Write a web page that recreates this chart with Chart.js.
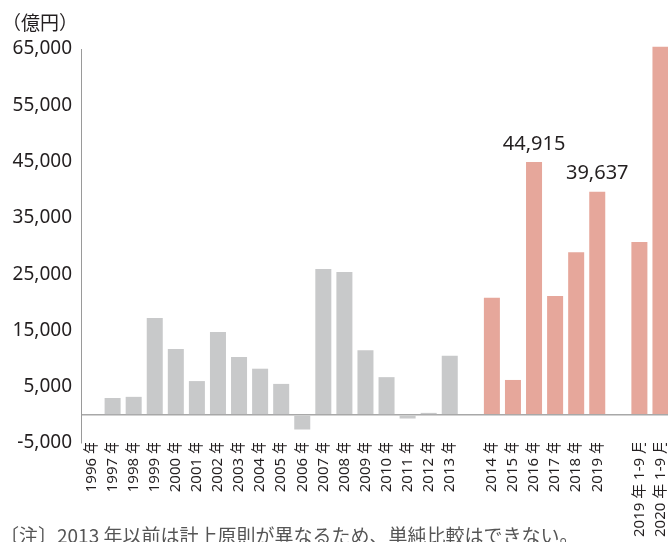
<!DOCTYPE html>
<html lang="ja">
<head>
    <meta charset="utf-8">
    <title>FDI chart</title>
    <script src="https://cdn.jsdelivr.net/npm/chart.js@4/dist/chart.umd.min.js"></script>
    <style>
        html, body { margin: 0; padding: 0; width: 668px; height: 542px; overflow: hidden; background: #fff; }
        #wrap { position: absolute; left: 0; top: 0; width: 671px; height: 542px; }
        .unit { position: absolute; left: 2px; top: 12px; font: 19px "Noto Sans CJK JP", "Noto Sans", sans-serif; color: #231f20; line-height: 1; }
        .note { position: absolute; left: 0px; top: 525px; font: 19px "Noto Sans CJK JP", sans-serif; color: #555; line-height: 1; white-space: nowrap; }
    </style>
</head>
<body>
    <div id="wrap"><canvas id="fdiChart"></canvas></div>
    <div class="unit">（億円）</div>
    <div class="note">〔注〕2013 年以前は計上原則が異なるため、単純比較はできない。</div>

<script>
    /* chart data */
    const categories = ['1996 年', '1997 年', '1998 年', '1999 年', '2000 年', '2001 年', '2002 年', '2003 年', '2004 年',
        '2005 年', '2006 年', '2007 年', '2008 年', '2009 年', '2010 年', '2011 年', '2012 年', '2013 年', '',
        '2014 年', '2015 年', '2016 年', '2017 年', '2018 年', '2019 年', '', '2019 年 1-9 月', '2020 年 1-9 月'];
    const values = [0, 3000, 3200, 17200, 11700, 6000, 14700, 10300, 8200,
        5500, -2600, 25900, 25400, 11500, 6700, -650, 350, 10500, null,
        20800, 6200, 44915, 21100, 28900, 39637, null, 30700, 65400];
    const yTicks = [-5000, 0, 5000, 15000, 25000, 35000, 45000, 55000, 65000];
    const labelledBars = ['2016 年', '2019 年'];

    const newBasisStart = categories.indexOf('2014 年');
    const barColors = categories.map((c, i) => i < newBasisStart ? '#c8c9ca' : '#e6a79b');
    const fmt = new Intl.NumberFormat('en-US');
    const FONT = '"Noto Sans", "Noto Sans CJK JP", sans-serif';

    /* draws the value over the two marked bars */
    const barValues = {
        id: 'barValues',
        afterDatasetsDraw(chart){
            const meta = chart.getDatasetMeta(0);
            const c = chart.ctx;
            c.save();
            c.font = '20px ' + FONT;
            c.fillStyle = '#231f20';
            c.textAlign = 'center';
            c.textBaseline = 'middle';
            labelledBars.forEach((lab) => {
                const i = categories.indexOf(lab);
                const bar = meta.data[i];
                c.fillText(fmt.format(values[i]), bar.x, bar.y - 18);
            });
            c.restore();
        }
    };

    let ctx = document.getElementById('fdiChart').getContext('2d');
    let fdiChart = new Chart(ctx, {
        type: 'bar',
        data: {
            labels: categories,
            datasets: [{
                data: values,
                backgroundColor: barColors,
                borderWidth: 0,
                categoryPercentage: 1,
                barPercentage: 0.76,
                clip: false
            }]
        },
        options: {
            responsive: true,
            maintainAspectRatio: false,
            animation: false,
            events: [],
            layout: { padding: { top: 49, left: 0, right: 0, bottom: 0 } },
            plugins: {
                legend: { display: false },
                tooltip: { enabled: false }
            },
            scales: {
                x: {
                    grid: { display: false },
                    border: { display: false },
                    ticks: {
                        autoSkip: false,
                        minRotation: 90,
                        maxRotation: 90,
                        padding: -12,
                        color: '#231f20',
                        font: { family: FONT, size: 15 }
                    },
                    afterFit(scale){ scale.height = 99; }
                },
                y: {
                    min: -5000,
                    max: 65000,
                    afterBuildTicks(scale){ scale.ticks = yTicks.map(v => ({ value: v })); },
                    afterFit(scale){ scale.width = 81; },
                    border: { display: true, color: '#9a9a9a', width: 1 },
                    grid: {
                        drawTicks: false,
                        color: (c) => (c.tick && c.tick.value === 0) ? '#a8a8a8' : 'rgba(0,0,0,0)',
                        lineWidth: 1.5
                    },
                    ticks: {
                        padding: 9,
                        color: '#231f20',
                        font: { family: FONT, size: 19 },
                        callback: (v) => v === 0 ? '' : fmt.format(v)
                    }
                }
            }
        },
        plugins: [barValues]
    });
</script>
</body>
</html>
